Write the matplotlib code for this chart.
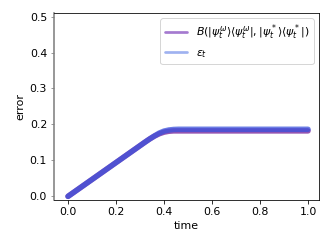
import numpy as np
import matplotlib
matplotlib.use("Agg")
import matplotlib.pyplot as plt

t = np.linspace(0, 1.0, 51)
B_vals = [0.000, 0.0094, 0.0188, 0.0282, 0.0376, 0.047, 0.0564, 0.0658, 0.0752, 0.0846,
          0.094, 0.1034, 0.1128, 0.1222, 0.1316, 0.141, 0.1504, 0.1595, 0.1675, 0.174,
          0.1785, 0.181, 0.182] + [0.182] * 28
eps_vals = [0.000, 0.0094, 0.0188, 0.0282, 0.0376, 0.047, 0.0564, 0.0658, 0.0752, 0.0846,
            0.094, 0.1034, 0.1128, 0.1222, 0.1316, 0.141, 0.1504, 0.1595, 0.168, 0.176,
            0.1815, 0.1845, 0.186, 0.1865] + [0.1865] * 27
xticks = [0.0, 0.2, 0.4, 0.6, 0.8, 1.0]
yticks = [0.0, 0.1, 0.2, 0.3, 0.4, 0.5]

plt.rcParams['font.size'] = 11
fig = plt.figure(figsize=(332/72, 249/72), dpi=72)
ax = fig.add_axes([0.163, 0.197, 0.798, 0.751])

ax.plot(t, B_vals, color='#7a2a9e', alpha=0.8, lw=5.5, solid_capstyle='round',
        label=r'$B(|\psi_t^\omega\rangle\langle\psi_t^\omega|,|\psi_t^*\rangle\langle\psi_t^*|)$', zorder=2)
ax.plot(t, eps_vals, color='#3a50dc', alpha=0.75, lw=5.5, solid_capstyle='round',
        label=r'$\epsilon_t$', zorder=3)

ax.set_xlim(-0.058, 1.046)
ax.set_ylim(-0.01, 0.51)
ax.set_xticks(xticks)
ax.set_yticks(yticks)
ax.set_xlabel('time')
ax.set_ylabel('error')
ax.spines['left'].set_color('gray')
ax.spines['left'].set_linewidth(1.6)
ax.tick_params(axis='y', color='gray')
leg = ax.legend(loc='upper right')
leg.legend_handles[0].set_color('#9b6ccb')
leg.legend_handles[0].set_alpha(0.9)
leg.legend_handles[1].set_color('#9fb2f0')
leg.legend_handles[1].set_alpha(1.0)
for h in leg.legend_handles:
    h.set_linewidth(2.7)

fig.savefig('out.png', dpi=72)
